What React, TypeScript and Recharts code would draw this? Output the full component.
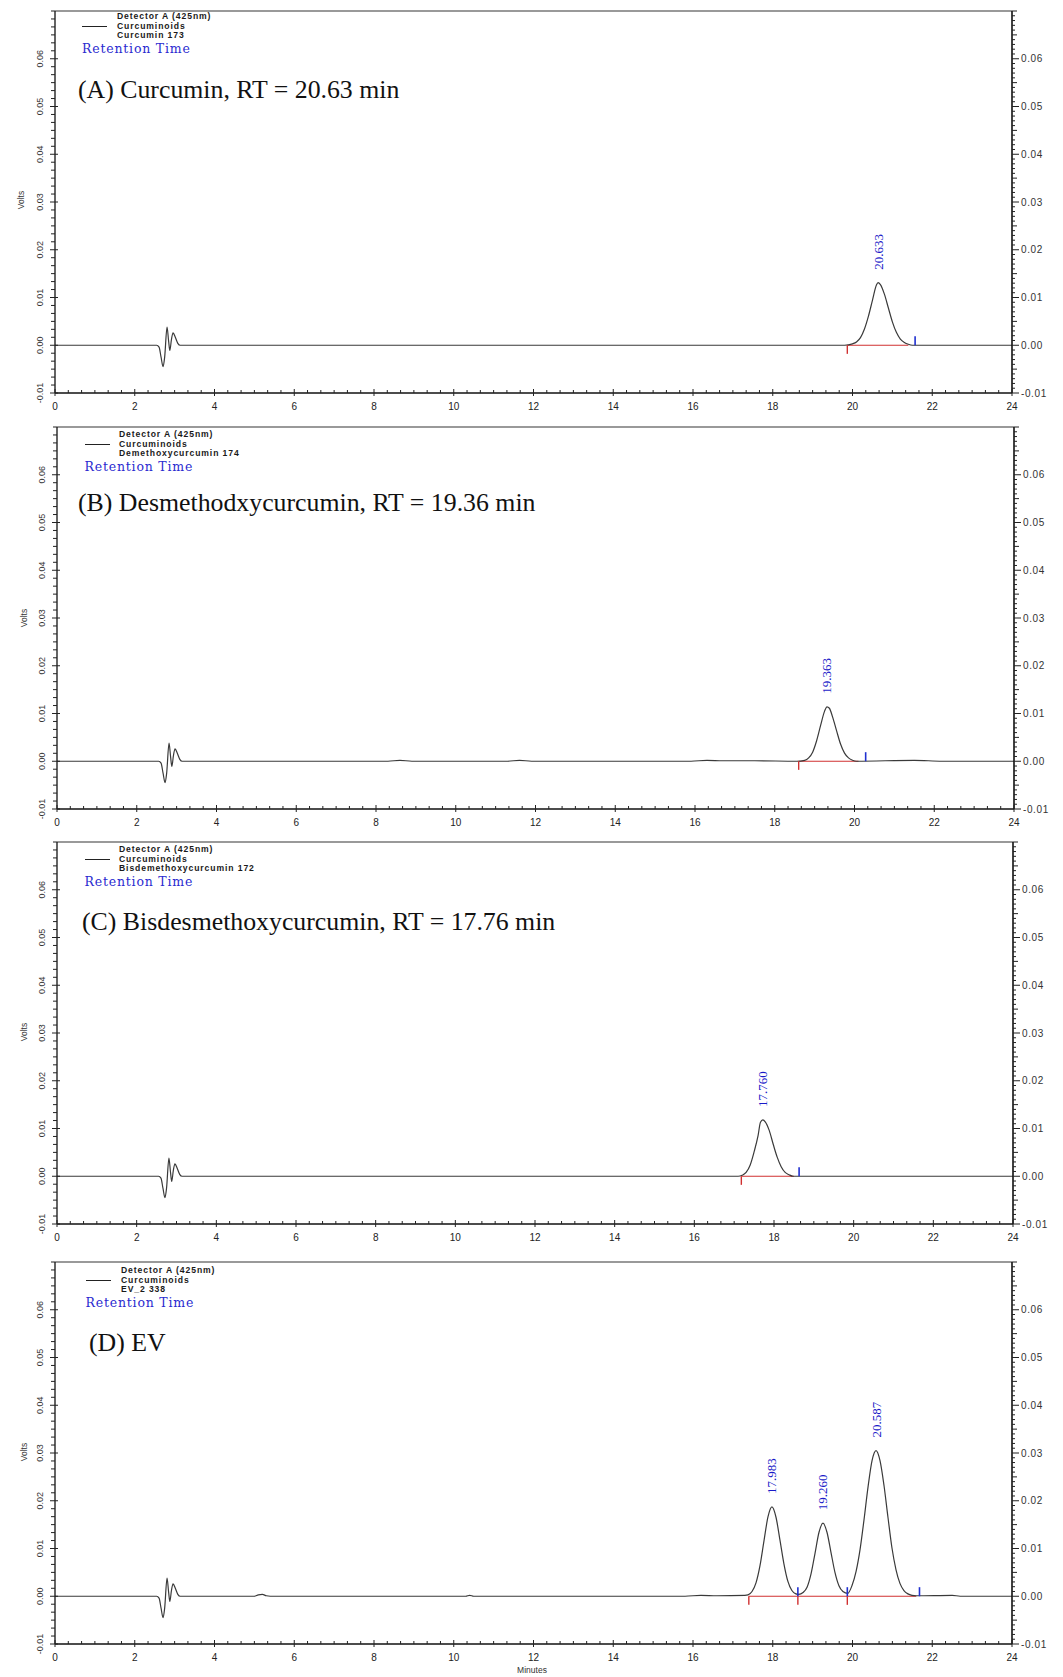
import React from 'react';
import { LineChart, Line, XAxis, YAxis, ReferenceLine, ReferenceDot } from 'recharts';

type Pt = [number, number];

const SANS = '"Liberation Sans", Arial, sans-serif';
const SERIF = '"Liberation Serif", "Times New Roman", serif';
const SERIF2 = '"DejaVu Serif", serif';

// ---- axis ticks / labels ----
const xMajorTicks = [0, 2, 4, 6, 8, 10, 12, 14, 16, 18, 20, 22, 24];
const xTickLabels = ['0', '2', '4', '6', '8', '10', '12', '14', '16', '18', '20', '22', '24'];
const yMajorTicks = [-0.01, 0, 0.01, 0.02, 0.03, 0.04, 0.05, 0.06];
const leftYLabels = ['-0.01', '0.00', '0.01', '0.02', '0.03', '0.04', '0.05', '0.06'];
const rightYLabels = ['-0.01', '0.00', '0.01', '0.02', '0.03', '0.04', '0.05', '0.06'];
const yDomain: [number, number] = [-0.01, 0.07];

const xAllTicks = Array.from({ length: 73 }, (_, i) => i / 3);
const yLeftAllTicks = Array.from({ length: 49 }, (_, i) => -0.01 + i * (0.01 / 6));
const yRightAllTicks = Array.from({ length: 81 }, (_, i) => -0.01 + i * 0.001);

// ---- injection disturbance (same in each run) ----
const injection: Pt[] = [
  [2.55, 0], [2.61, -0.0004], [2.66, -0.0025], [2.71, -0.0045], [2.75, -0.0025],
  [2.81, 0.0038], [2.85, 0.0008], [2.88, -0.0011], [2.92, 0.0012], [2.96, 0.0026],
  [3.02, 0.0016], [3.08, 0.0004], [3.14, 0],
];

// ---- (A) Curcumin ----
const traceA: Pt[] = [
  [0, 0], ...injection, [10, 0], [19.8, 0],
  [20.0, 0.0003], [20.1, 0.0007], [20.2, 0.0016], [20.3, 0.0034], [20.4, 0.0061],
  [20.5, 0.0094], [20.6, 0.0126], [20.64, 0.0131], [20.7, 0.0127], [20.8, 0.0107],
  [20.9, 0.0078], [21.0, 0.0049], [21.1, 0.0027], [21.2, 0.0013], [21.3, 0.0006],
  [21.4, 0.0002], [21.5, 0], [24, 0],
];
const peakTimesA = [20.64];
const peakHeightsA = [0.0131];
const peakLabelsA = ['20.633'];

// ---- (B) Desmethoxycurcumin ----
const traceB: Pt[] = [
  [0, 0], ...injection, [8.3, 0], [8.6, 0.0002], [8.9, 0], [11.3, 0], [11.6, 0.0002],
  [11.9, 0], [15.9, 0], [16.3, 0.0002], [16.7, 0.0001], [17.5, 0.0001], [18.55, 0],
  [18.75, 0.0002], [18.85, 0.0007], [18.95, 0.0019], [19.05, 0.0043], [19.15, 0.0075],
  [19.25, 0.0105], [19.31, 0.0114], [19.37, 0.0111], [19.45, 0.0093], [19.55, 0.0064],
  [19.65, 0.0036], [19.75, 0.0017], [19.85, 0.0007], [19.95, 0.0002], [20.05, 0],
  [21.5, 0.0002], [22.2, 0], [24, 0],
];
const peakTimesB = [19.31];
const peakHeightsB = [0.0114];
const peakLabelsB = ['19.363'];

// ---- (C) Bisdesmethoxycurcumin ----
const traceC: Pt[] = [
  [0, 0], ...injection, [10, 0], [17.1, 0],
  [17.2, 0.0002], [17.3, 0.0008], [17.4, 0.0023], [17.5, 0.0051], [17.6, 0.0085],
  [17.66, 0.0113], [17.72, 0.0118], [17.78, 0.0114], [17.88, 0.0096], [17.98, 0.0067],
  [18.08, 0.0040], [18.18, 0.0020], [18.28, 0.0008], [18.38, 0.0003], [18.48, 0], [24, 0],
];
const peakTimesC = [17.72];
const peakHeightsC = [0.0118];
const peakLabelsC = ['17.760'];

// ---- (D) EV extract ----
const traceD: Pt[] = [
  [0, 0], ...injection, [5.0, 0], [5.1, 0.0003], [5.2, 0.0004], [5.3, 0.0001], [5.4, 0],
  [10.3, 0], [10.4, 0.0002], [10.5, 0], [15.8, 0], [16.2, 0.0002], [16.6, 0.0001],
  [17.3, 0.0002],
  [17.38, 0.0003], [17.48, 0.001], [17.58, 0.0028], [17.68, 0.0064], [17.78, 0.0116],
  [17.88, 0.0166], [17.98, 0.0187], [18.08, 0.0166], [18.18, 0.0118], [18.28, 0.0068],
  [18.38, 0.0031], [18.48, 0.0012], [18.58, 0.0005], [18.65, 0.0004],
  [18.76, 0.0008], [18.86, 0.0019], [18.96, 0.0047], [19.06, 0.009], [19.16, 0.0134],
  [19.26, 0.0153], [19.36, 0.0134], [19.46, 0.0092], [19.56, 0.005], [19.66, 0.0022],
  [19.76, 0.001], [19.88, 0.0006],
  [19.99, 0.0023], [20.09, 0.0052], [20.19, 0.0098], [20.29, 0.0161], [20.39, 0.0229],
  [20.49, 0.0284], [20.59, 0.0305], [20.69, 0.0284], [20.79, 0.0232], [20.89, 0.0165],
  [20.99, 0.0101], [21.09, 0.0056], [21.19, 0.0027], [21.29, 0.0012], [21.39, 0.0005],
  [21.49, 0.0002], [21.6, 0.0001], [22.5, 0.0002], [22.7, 0], [24, 0],
];
const peakTimesD = [17.98, 19.26, 20.59];
const peakHeightsD = [0.0187, 0.0153, 0.0305];
const peakLabelsD = ['17.983', '19.260', '20.587'];

// integration marks: [start, end] red baseline, red ticks (start), blue ticks (end)
const baselineA: Pt[] = [[19.87, 21.4]];
const redTicksA = [19.87];
const blueTicksA = [21.57];
const baselineB: Pt[] = [[18.6, 20.1]];
const redTicksB = [18.6];
const blueTicksB = [20.28];
const baselineC: Pt[] = [[17.18, 18.5]];
const redTicksC = [17.18];
const blueTicksC = [18.63];
const baselineD: Pt[] = [[17.4, 21.6]];
const redTicksD = [17.4, 18.63, 19.87];
const blueTicksD = [18.63, 19.87, 21.68];

interface PanelCfg {
  top: number; left: number; right: number;
  title: string; titleX: number; titleY: number;
  legendX: number; lineX: number; legendY: number;
  sample: string;
  trace: Pt[];
  peakTimes: number[]; peakHeights: number[]; peakLabels: string[];
  baseline: Pt[]; redTicks: number[]; blueTicks: number[];
  voltsY: number; voltsX: number;
}

const panels: PanelCfg[] = [
  {
    top: 10.5, left: 55, right: 1012, title: '(A) Curcumin, RT = 20.63 min', titleX: 78, titleY: 90,
    legendX: 117, lineX: 82, legendY: 16, sample: 'Curcumin 173', trace: traceA,
    peakTimes: peakTimesA, peakHeights: peakHeightsA, peakLabels: peakLabelsA,
    baseline: baselineA, redTicks: redTicksA, blueTicks: blueTicksA, voltsY: 200, voltsX: 21,
  },
  {
    top: 427, left: 57, right: 1014, title: '(B) Desmethodxycurcumin, RT = 19.36 min', titleX: 78, titleY: 503,
    legendX: 119, lineX: 84.5, legendY: 434, sample: 'Demethoxycurcumin 174', trace: traceB,
    peakTimes: peakTimesB, peakHeights: peakHeightsB, peakLabels: peakLabelsB,
    baseline: baselineB, redTicks: redTicksB, blueTicks: blueTicksB, voltsY: 618, voltsX: 23.5,
  },
  {
    top: 842, left: 57, right: 1013, title: '(C) Bisdesmethoxycurcumin, RT = 17.76 min', titleX: 82, titleY: 922,
    legendX: 119, lineX: 84.5, legendY: 849, sample: 'Bisdemethoxycurcumin 172', trace: traceC,
    peakTimes: peakTimesC, peakHeights: peakHeightsC, peakLabels: peakLabelsC,
    baseline: baselineC, redTicks: redTicksC, blueTicks: blueTicksC, voltsY: 1032, voltsX: 23.5,
  },
  {
    top: 1262, left: 55, right: 1012, title: '(D) EV', titleX: 89, titleY: 1343,
    legendX: 121, lineX: 85.5, legendY: 1270, sample: 'EV_2 338', trace: traceD,
    peakTimes: peakTimesD, peakHeights: peakHeightsD, peakLabels: peakLabelsD,
    baseline: baselineD, redTicks: redTicksD, blueTicks: blueTicksD, voltsY: 1452, voltsX: 23.5,
  },
];

const PLOT_H = 382;
const M_TOP = 20;
const M_BOTTOM = 28;
const AX = 1; // axis thickness reserved
const CHART_W = 1063;
const CHART_H = PLOT_H + M_TOP + M_BOTTOM + AX;

const near = (a: number, b: number) => Math.abs(a - b) < 1e-7;

const XTick = (props: any) => {
  const { x, y, payload } = props;
  const v = payload.value as number;
  const idx = xMajorTicks.findIndex((m) => near(m, v));
  const major = idx >= 0;
  return (
    <g>
      <line x1={x} x2={x} y1={major ? y + 3 : y} y2={y - (major ? 4 : 3)} stroke="#222" strokeWidth={1} />
      {major && (
        <text x={x} y={y + 13} textAnchor="middle" dominantBaseline="central" fontSize={10}
          fontFamily={SANS} fill="#222">{xTickLabels[idx]}</text>
      )}
    </g>
  );
};

const LeftTick = (props: any) => {
  const { x, y, payload } = props;
  const v = payload.value as number;
  const idx = yMajorTicks.findIndex((m) => near(m, v));
  const major = idx >= 0;
  const lx = x - 15;
  return (
    <g>
      <line x1={major ? x + 3 : x} x2={x - (major ? 5 : 4)} y1={y} y2={y} stroke="#222" strokeWidth={1} />
      {major && (
        <text x={lx} y={y} transform={`rotate(-90, ${lx}, ${y})`} textAnchor="middle"
          dominantBaseline="central" fontSize={9} fontFamily={SANS} fill="#333">{leftYLabels[idx]}</text>
      )}
    </g>
  );
};

const RightTick = (props: any) => {
  const { x, y, payload } = props;
  const v = payload.value as number;
  const idx = yMajorTicks.findIndex((m) => near(m, v));
  const major = idx >= 0;
  const half = !major && Math.abs(v * 200 - Math.round(v * 200)) < 1e-6;
  return (
    <g>
      <line x1={x} x2={x + (major ? 7 : half ? 5 : 3)} y1={y} y2={y} stroke="#222" strokeWidth={1} />
      {major && (
        <text x={x + 9} y={y} textAnchor="start" dominantBaseline="central" fontSize={10}
          letterSpacing={0.6} fontFamily={SANS} fill="#333">{rightYLabels[idx]}</text>
      )}
    </g>
  );
};

const PeakLabel = (props: any) => {
  const { cx, cy, text } = props;
  const y0 = cy - 13;
  return (
    <text x={cx} y={y0} transform={`rotate(-90, ${cx}, ${y0})`} textAnchor="start"
      dominantBaseline="central" fontSize={13} fontFamily={SERIF} fill="#1a1ac8">{text}</text>
  );
};

const Panel = ({ cfg }: { cfg: PanelCfg }) => {
  const data = cfg.trace.map(([t, v]) => ({ t, v }));
  return (
    <div style={{ position: 'absolute', left: 0, top: cfg.top - M_TOP }}>
      <LineChart width={CHART_W} height={CHART_H} data={data}
        margin={{ top: M_TOP, bottom: M_BOTTOM, left: cfg.left - AX, right: CHART_W - cfg.right - AX }}>
        <XAxis dataKey="t" type="number" domain={[0, 24]} ticks={xAllTicks} interval={0}
          height={AX} tickSize={0} tickMargin={0} tickLine={false} tick={(p: any) => <XTick {...p} />}
          axisLine={{ stroke: '#111', strokeWidth: 1.3 }} allowDataOverflow />
        <YAxis yAxisId="left" type="number" domain={yDomain} ticks={yLeftAllTicks} interval={0}
          width={AX} tickSize={0} tickMargin={0} tickLine={false} tick={(p: any) => <LeftTick {...p} />}
          axisLine={{ stroke: '#111', strokeWidth: 1.3 }} allowDataOverflow />
        <YAxis yAxisId="right" orientation="right" type="number" domain={yDomain} ticks={yRightAllTicks}
          interval={0} width={AX} tickSize={0} tickMargin={0} tickLine={false}
          tick={(p: any) => <RightTick {...p} />} axisLine={{ stroke: '#111', strokeWidth: 1.6 }} allowDataOverflow />
        <ReferenceLine yAxisId="left" y={0.07} stroke="#777" strokeWidth={1.3} ifOverflow="visible" />
        {cfg.baseline.map(([a, b], i) => (
          <ReferenceLine key={'b' + i} yAxisId="left" segment={[{ x: a, y: 0 }, { x: b, y: 0 }]}
            stroke="#d03030" strokeWidth={1.2} ifOverflow="visible" />
        ))}
        <Line yAxisId="left" dataKey="v" type="monotone" stroke="#3a3a3a" strokeWidth={1.2}
          dot={false} isAnimationActive={false} />
        {cfg.redTicks.map((t, i) => (
          <ReferenceLine key={'r' + i} yAxisId="left" segment={[{ x: t, y: 0 }, { x: t, y: -0.0018 }]}
            stroke="#d03030" strokeWidth={1.4} ifOverflow="visible" />
        ))}
        {cfg.blueTicks.map((t, i) => (
          <ReferenceLine key={'u' + i} yAxisId="left" segment={[{ x: t, y: 0 }, { x: t, y: 0.0019 }]}
            stroke="#2030d0" strokeWidth={1.6} ifOverflow="visible" />
        ))}
        {cfg.peakTimes.map((t, i) => (
          <ReferenceDot key={'p' + i} yAxisId="left" x={t} y={cfg.peakHeights[i]} r={0}
            ifOverflow="visible"
            shape={(p: any) => <PeakLabel {...p} text={cfg.peakLabels[i]} />} />
        ))}
      </LineChart>
    </div>
  );
};

const PanelText = ({ cfg }: { cfg: PanelCfg }) => {
  const small: React.CSSProperties = {
    position: 'absolute', left: cfg.legendX, fontFamily: SANS, fontWeight: 700, fontSize: 8.6,
    letterSpacing: 0.9, lineHeight: '9px', color: '#1a1a1a', whiteSpace: 'nowrap', transform: 'translateY(-50%)',
  };
  return (
    <>
      <div style={{ ...small, top: cfg.legendY }}>Detector A (425nm)</div>
      <div style={{ ...small, top: cfg.legendY + 9.8 }}>Curcuminoids</div>
      <div style={{ ...small, top: cfg.legendY + 19 }}>{cfg.sample}</div>
      <div style={{ position: 'absolute', left: cfg.lineX, top: cfg.legendY + 10, width: 25, height: 0,
        borderTop: '1px solid #222' }} />
      <div style={{ position: 'absolute', left: cfg.lineX, top: cfg.legendY + 33, fontFamily: SERIF2,
        fontSize: 12.5, color: '#2a2ad0', whiteSpace: 'nowrap', transform: 'translateY(-50%)',
        letterSpacing: 0.8, lineHeight: '14px' }}>Retention Time</div>
      <div style={{ position: 'absolute', left: cfg.titleX, top: cfg.titleY, fontFamily: SERIF,
        fontSize: 25.8, color: '#111', whiteSpace: 'nowrap', transform: 'translateY(-50%)',
        lineHeight: '28px' }}>{cfg.title}</div>
      <div style={{ position: 'absolute', left: cfg.voltsX, top: cfg.voltsY, fontFamily: SANS,
        fontSize: 8.5, color: '#333', transform: 'translate(-50%, -50%) rotate(-90deg)',
        whiteSpace: 'nowrap', lineHeight: '10px' }}>Volts</div>
    </>
  );
};

export default function App() {
  return (
    <div style={{ position: 'absolute', left: 0, top: 0, width: 1063, height: 1677, background: '#fff',
      overflow: 'hidden' }}>
      {panels.map((cfg, i) => <Panel key={i} cfg={cfg} />)}
      {panels.map((cfg, i) => <PanelText key={'t' + i} cfg={cfg} />)}
      <div style={{ position: 'absolute', left: 532, top: 1670, fontFamily: SANS, fontSize: 8.5,
        color: '#333', transform: 'translate(-50%, -50%)', whiteSpace: 'nowrap' }}>Minutes</div>
    </div>
  );
}
